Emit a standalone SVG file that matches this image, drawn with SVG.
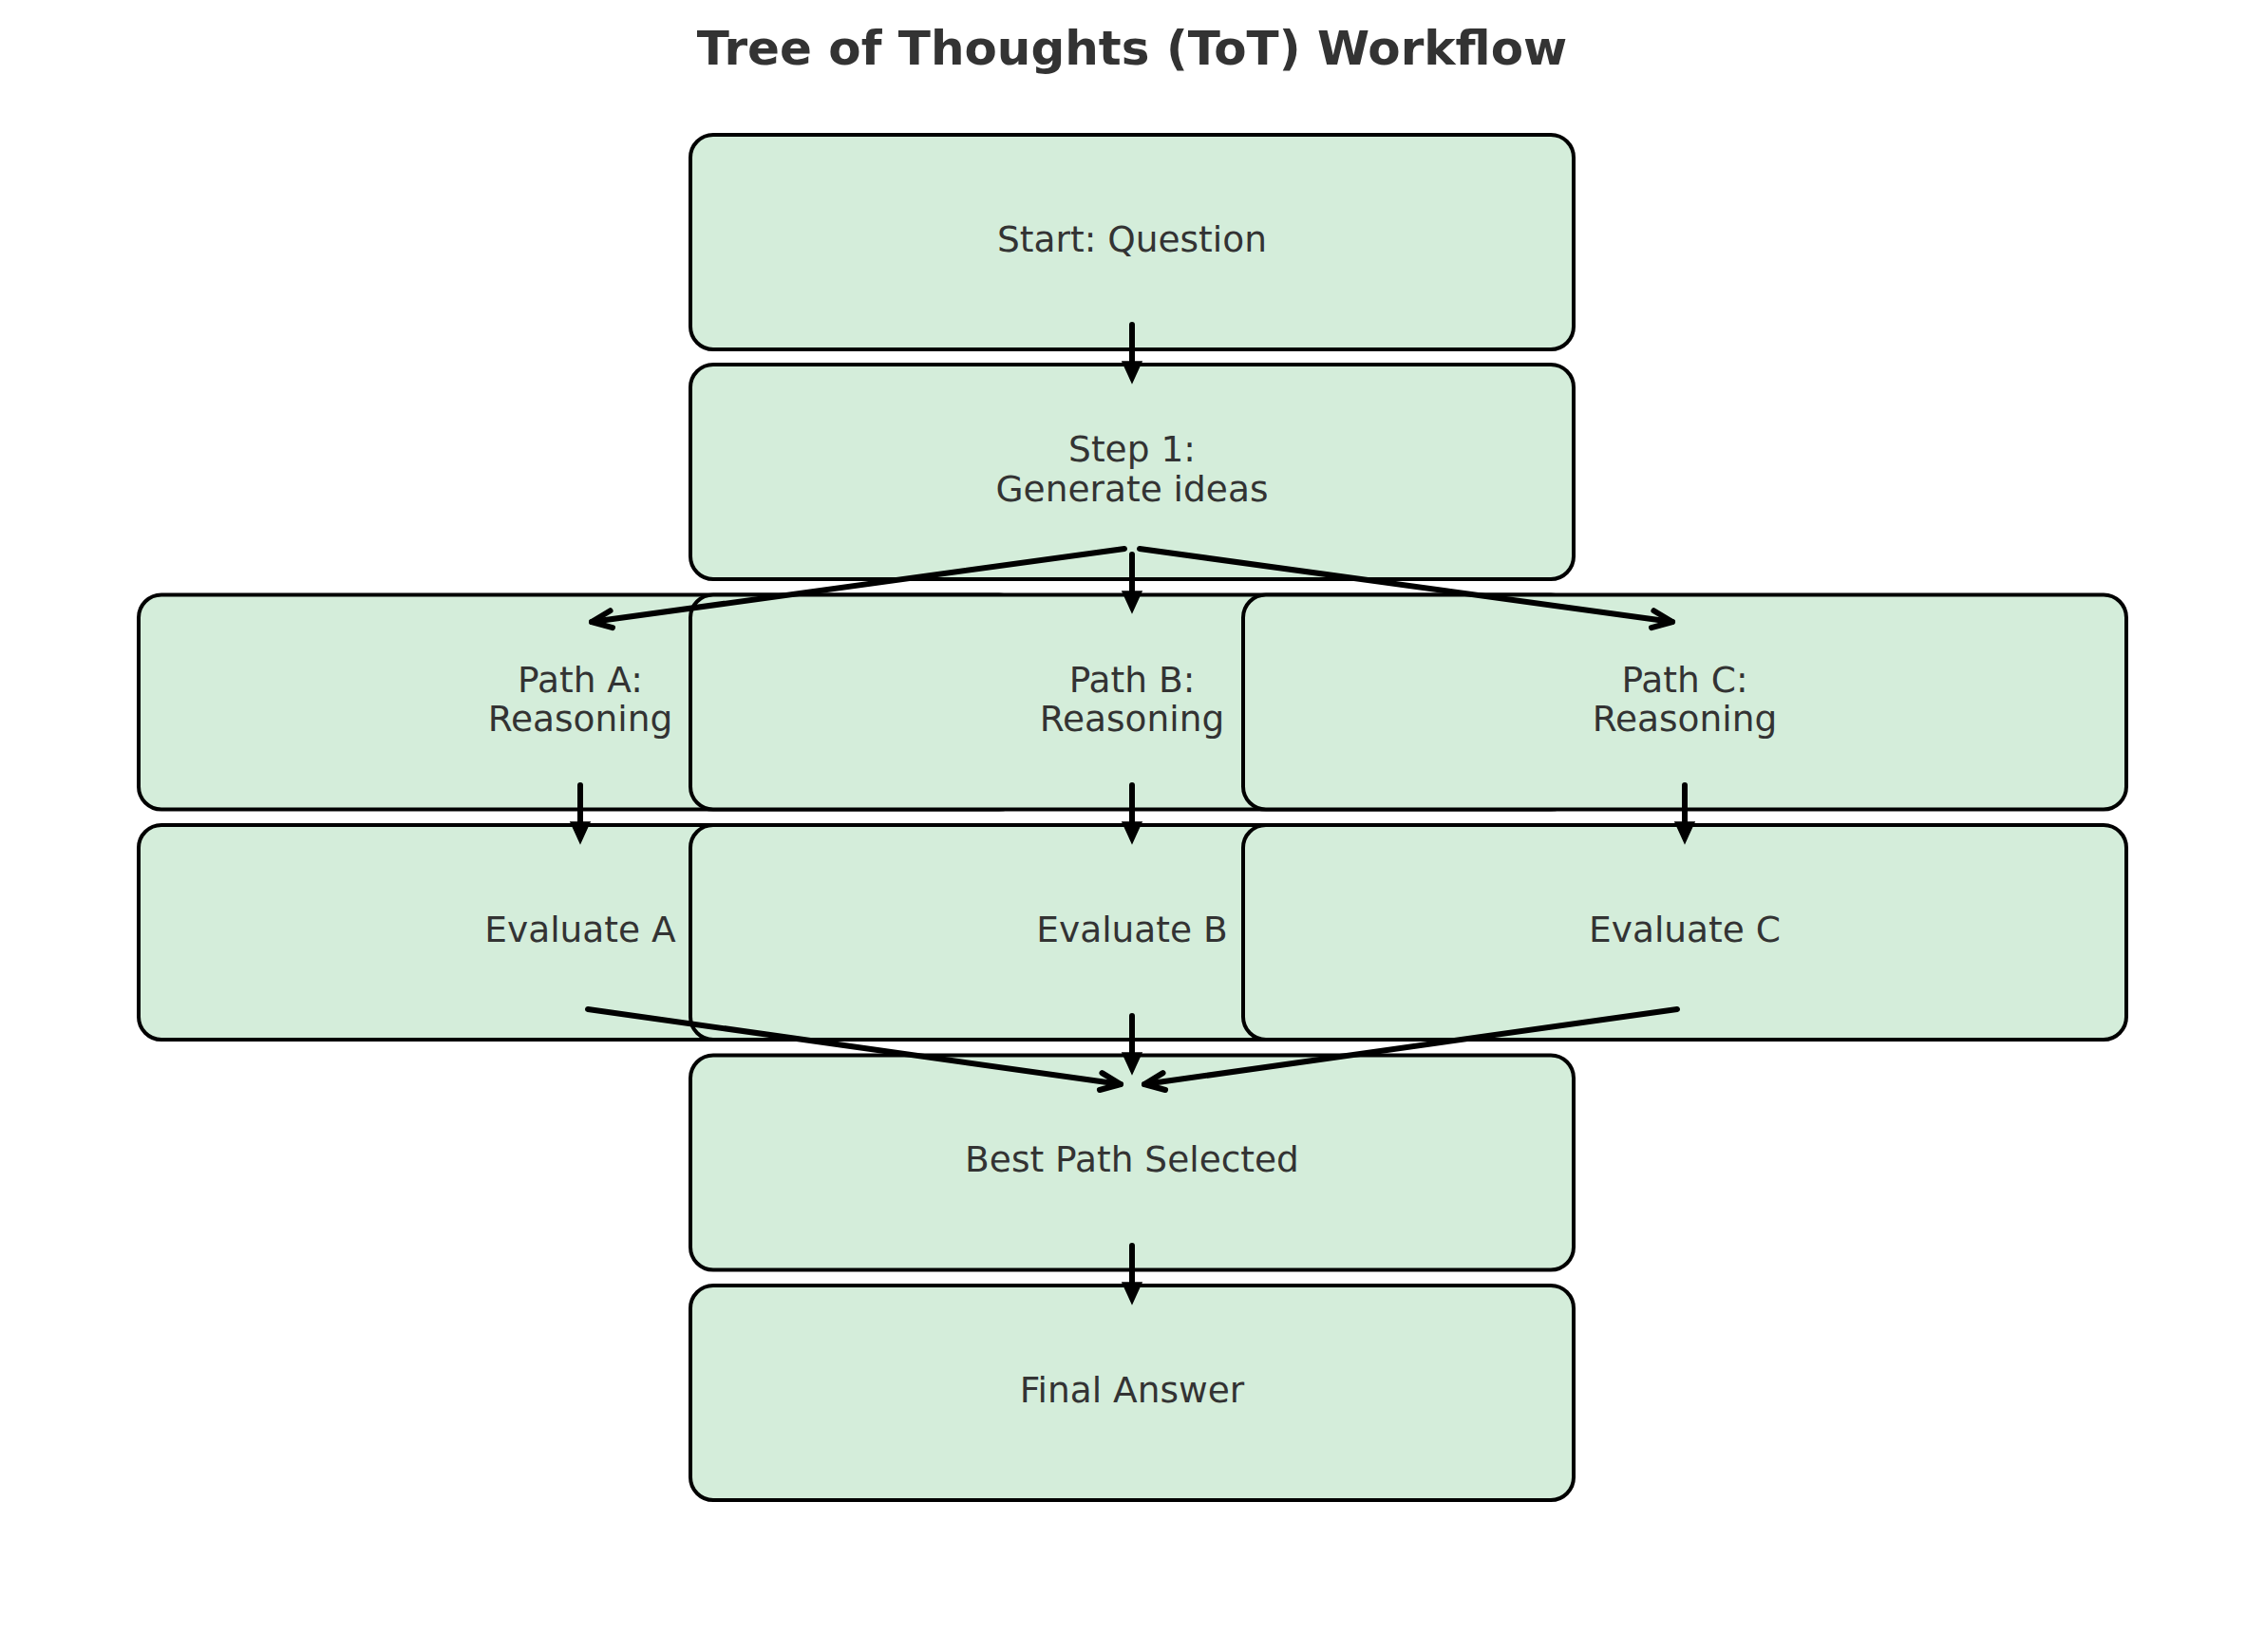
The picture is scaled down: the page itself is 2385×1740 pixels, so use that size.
<svg xmlns="http://www.w3.org/2000/svg" width="2385" height="1740" viewBox="0 0 2385 1740">
<style>
.box{fill:#d4edda;stroke:#000;stroke-width:4}
.lbl{font-family:"DejaVu Sans","Liberation Sans",sans-serif;font-size:37.5px;fill:#333333;text-anchor:middle}
.title{font-family:"DejaVu Sans","Liberation Sans",sans-serif;font-size:50px;font-weight:bold;fill:#333333;text-anchor:middle}
.arr{stroke:#000;stroke-width:6;stroke-linecap:round;fill:none}
</style>
<defs>
<marker id="tri" markerUnits="userSpaceOnUse" overflow="visible" orient="auto" refX="0" refY="0" markerWidth="30" markerHeight="30">
<path d="M0,-10 L22,0 L0,10 Z" fill="#000" stroke="#000" stroke-width="1.5" stroke-linejoin="miter"/>
</marker>
<marker id="chev" markerUnits="userSpaceOnUse" overflow="visible" orient="auto" refX="0" refY="0" markerWidth="30" markerHeight="30">
<path d="M-21,-9 L0,0 L-21,9" fill="none" stroke="#000" stroke-width="6" stroke-linecap="round" stroke-linejoin="round"/>
</marker>
</defs>
<rect width="2385" height="1740" fill="#fff"/>
<text class="title" x="1192" y="68">Tree of Thoughts (ToT) Workflow</text>
<g id="start"><rect class="box" x="727" y="142" width="930" height="226" rx="24"/><text class="lbl" x="1192" y="265">Start: Question</text></g>
<g id="step1"><rect class="box" x="727" y="384" width="930" height="226" rx="24"/><text class="lbl" x="1192" y="486">Step 1:</text><text class="lbl" x="1192" y="528">Generate ideas</text></g>
<g id="pathA"><rect class="box" x="146" y="626.5" width="930" height="226" rx="24"/><text class="lbl" x="611" y="729">Path A:</text><text class="lbl" x="611" y="770">Reasoning</text></g>
<g id="pathB"><rect class="box" x="727" y="626.5" width="930" height="226" rx="24"/><text class="lbl" x="1192" y="729">Path B:</text><text class="lbl" x="1192" y="770">Reasoning</text></g>
<g id="pathC"><rect class="box" x="1309" y="626.5" width="930" height="226" rx="24"/><text class="lbl" x="1774" y="729">Path C:</text><text class="lbl" x="1774" y="770">Reasoning</text></g>
<g id="evalA"><rect class="box" x="146" y="869" width="930" height="226" rx="24"/><text class="lbl" x="611" y="992">Evaluate A</text></g>
<g id="evalB"><rect class="box" x="727" y="869" width="930" height="226" rx="24"/><text class="lbl" x="1192" y="992">Evaluate B</text></g>
<g id="evalC"><rect class="box" x="1309" y="869" width="930" height="226" rx="24"/><text class="lbl" x="1774" y="992">Evaluate C</text></g>
<g id="best"><rect class="box" x="727" y="1111.5" width="930" height="226" rx="24"/><text class="lbl" x="1192" y="1234">Best Path Selected</text></g>
<g id="final"><rect class="box" x="727" y="1354" width="930" height="226" rx="24"/><text class="lbl" x="1192" y="1477">Final Answer</text></g>
<g id="connectors">
<line class="arr" x1="1192" y1="342" x2="1192" y2="381" marker-end="url(#tri)"/>
<line class="arr" x1="1192" y1="584" x2="1192" y2="623" marker-end="url(#tri)"/>
<line class="arr" x1="1184" y1="578" x2="623" y2="655" marker-end="url(#chev)"/>
<line class="arr" x1="1200" y1="578" x2="1761" y2="655" marker-end="url(#chev)"/>
<line class="arr" x1="611" y1="827" x2="611" y2="866" marker-end="url(#tri)"/>
<line class="arr" x1="1192" y1="827" x2="1192" y2="866" marker-end="url(#tri)"/>
<line class="arr" x1="1774" y1="827" x2="1774" y2="866" marker-end="url(#tri)"/>
<line class="arr" x1="619" y1="1063" x2="1180" y2="1142" marker-end="url(#chev)"/>
<line class="arr" x1="1192" y1="1070" x2="1192" y2="1109" marker-end="url(#tri)"/>
<line class="arr" x1="1766" y1="1063" x2="1205" y2="1142" marker-end="url(#chev)"/>
<line class="arr" x1="1192" y1="1312" x2="1192" y2="1351" marker-end="url(#tri)"/>
</g>
</svg>
